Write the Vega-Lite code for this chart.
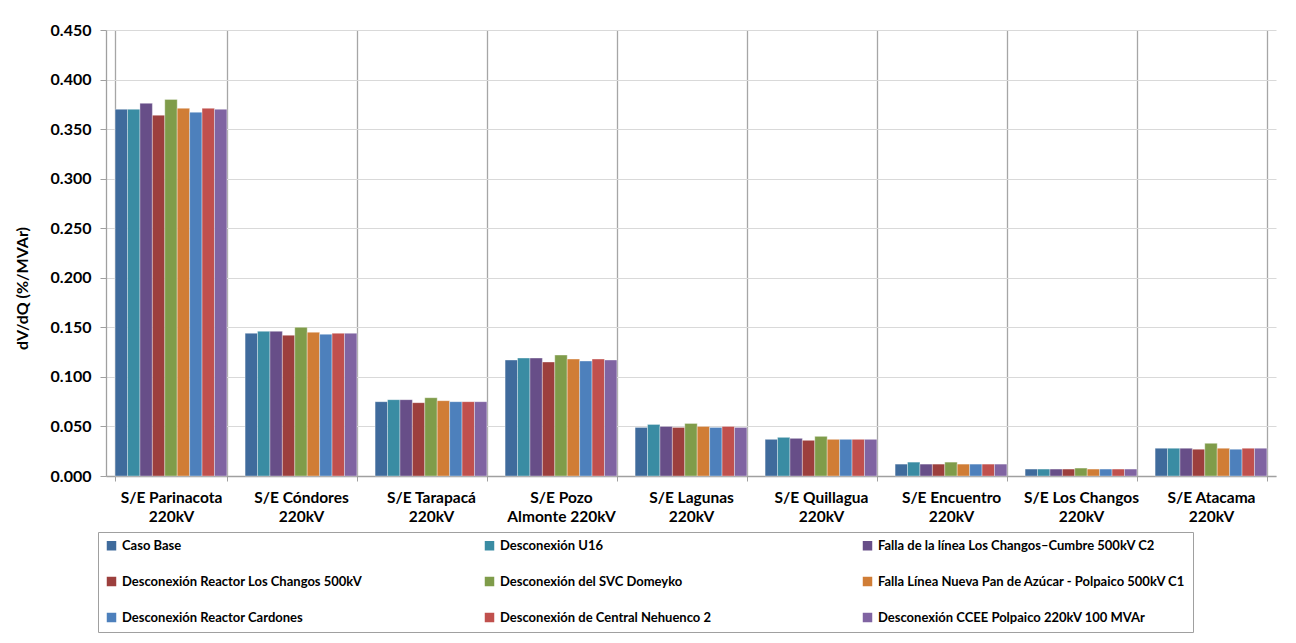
{
  "$schema": "https://vega.github.io/schema/vega-lite/v6.json",
  "autosize": {"type": "none"},
  "padding": {"left": 106, "top": 30, "right": 20, "bottom": 167},
  "width": 1170,
  "height": 446,
  "background": "white",
  "config": {
    "view": {"stroke": null},
    "font": "Lato",
    "axis": {"labelFont": "Lato", "titleFont": "Lato", "labelFontWeight": "bold", "titleFontWeight": "bold", "labelColor": "#000000", "titleColor": "#000000"},
    "legend": {"labelFont": "Lato", "labelFontWeight": "bold", "labelColor": "#000000"}
  },
  "datasets": {
    "tabla": [
      {"subestacion": "S/E Parinacota|220kV", "caso": "Caso Base", "valor": 0.370},
      {"subestacion": "S/E Parinacota|220kV", "caso": "Desconexión U16", "valor": 0.370},
      {"subestacion": "S/E Parinacota|220kV", "caso": "Falla de la línea Los Changos–Cumbre 500kV C2", "valor": 0.376},
      {"subestacion": "S/E Parinacota|220kV", "caso": "Desconexión Reactor Los Changos 500kV", "valor": 0.364},
      {"subestacion": "S/E Parinacota|220kV", "caso": "Desconexión del SVC Domeyko", "valor": 0.380},
      {"subestacion": "S/E Parinacota|220kV", "caso": "Falla Línea Nueva Pan de Azúcar - Polpaico 500kV C1", "valor": 0.371},
      {"subestacion": "S/E Parinacota|220kV", "caso": "Desconexión Reactor Cardones", "valor": 0.367},
      {"subestacion": "S/E Parinacota|220kV", "caso": "Desconexión de Central Nehuenco 2", "valor": 0.371},
      {"subestacion": "S/E Parinacota|220kV", "caso": "Desconexión CCEE Polpaico 220kV 100 MVAr", "valor": 0.370},

      {"subestacion": "S/E Cóndores|220kV", "caso": "Caso Base", "valor": 0.144},
      {"subestacion": "S/E Cóndores|220kV", "caso": "Desconexión U16", "valor": 0.146},
      {"subestacion": "S/E Cóndores|220kV", "caso": "Falla de la línea Los Changos–Cumbre 500kV C2", "valor": 0.146},
      {"subestacion": "S/E Cóndores|220kV", "caso": "Desconexión Reactor Los Changos 500kV", "valor": 0.142},
      {"subestacion": "S/E Cóndores|220kV", "caso": "Desconexión del SVC Domeyko", "valor": 0.150},
      {"subestacion": "S/E Cóndores|220kV", "caso": "Falla Línea Nueva Pan de Azúcar - Polpaico 500kV C1", "valor": 0.145},
      {"subestacion": "S/E Cóndores|220kV", "caso": "Desconexión Reactor Cardones", "valor": 0.143},
      {"subestacion": "S/E Cóndores|220kV", "caso": "Desconexión de Central Nehuenco 2", "valor": 0.144},
      {"subestacion": "S/E Cóndores|220kV", "caso": "Desconexión CCEE Polpaico 220kV 100 MVAr", "valor": 0.144},

      {"subestacion": "S/E Tarapacá|220kV", "caso": "Caso Base", "valor": 0.075},
      {"subestacion": "S/E Tarapacá|220kV", "caso": "Desconexión U16", "valor": 0.077},
      {"subestacion": "S/E Tarapacá|220kV", "caso": "Falla de la línea Los Changos–Cumbre 500kV C2", "valor": 0.077},
      {"subestacion": "S/E Tarapacá|220kV", "caso": "Desconexión Reactor Los Changos 500kV", "valor": 0.074},
      {"subestacion": "S/E Tarapacá|220kV", "caso": "Desconexión del SVC Domeyko", "valor": 0.079},
      {"subestacion": "S/E Tarapacá|220kV", "caso": "Falla Línea Nueva Pan de Azúcar - Polpaico 500kV C1", "valor": 0.076},
      {"subestacion": "S/E Tarapacá|220kV", "caso": "Desconexión Reactor Cardones", "valor": 0.075},
      {"subestacion": "S/E Tarapacá|220kV", "caso": "Desconexión de Central Nehuenco 2", "valor": 0.075},
      {"subestacion": "S/E Tarapacá|220kV", "caso": "Desconexión CCEE Polpaico 220kV 100 MVAr", "valor": 0.075},

      {"subestacion": "S/E Pozo|Almonte 220kV", "caso": "Caso Base", "valor": 0.117},
      {"subestacion": "S/E Pozo|Almonte 220kV", "caso": "Desconexión U16", "valor": 0.119},
      {"subestacion": "S/E Pozo|Almonte 220kV", "caso": "Falla de la línea Los Changos–Cumbre 500kV C2", "valor": 0.119},
      {"subestacion": "S/E Pozo|Almonte 220kV", "caso": "Desconexión Reactor Los Changos 500kV", "valor": 0.115},
      {"subestacion": "S/E Pozo|Almonte 220kV", "caso": "Desconexión del SVC Domeyko", "valor": 0.122},
      {"subestacion": "S/E Pozo|Almonte 220kV", "caso": "Falla Línea Nueva Pan de Azúcar - Polpaico 500kV C1", "valor": 0.118},
      {"subestacion": "S/E Pozo|Almonte 220kV", "caso": "Desconexión Reactor Cardones", "valor": 0.116},
      {"subestacion": "S/E Pozo|Almonte 220kV", "caso": "Desconexión de Central Nehuenco 2", "valor": 0.118},
      {"subestacion": "S/E Pozo|Almonte 220kV", "caso": "Desconexión CCEE Polpaico 220kV 100 MVAr", "valor": 0.117},

      {"subestacion": "S/E Lagunas|220kV", "caso": "Caso Base", "valor": 0.049},
      {"subestacion": "S/E Lagunas|220kV", "caso": "Desconexión U16", "valor": 0.052},
      {"subestacion": "S/E Lagunas|220kV", "caso": "Falla de la línea Los Changos–Cumbre 500kV C2", "valor": 0.050},
      {"subestacion": "S/E Lagunas|220kV", "caso": "Desconexión Reactor Los Changos 500kV", "valor": 0.049},
      {"subestacion": "S/E Lagunas|220kV", "caso": "Desconexión del SVC Domeyko", "valor": 0.053},
      {"subestacion": "S/E Lagunas|220kV", "caso": "Falla Línea Nueva Pan de Azúcar - Polpaico 500kV C1", "valor": 0.050},
      {"subestacion": "S/E Lagunas|220kV", "caso": "Desconexión Reactor Cardones", "valor": 0.049},
      {"subestacion": "S/E Lagunas|220kV", "caso": "Desconexión de Central Nehuenco 2", "valor": 0.050},
      {"subestacion": "S/E Lagunas|220kV", "caso": "Desconexión CCEE Polpaico 220kV 100 MVAr", "valor": 0.049},

      {"subestacion": "S/E Quillagua|220kV", "caso": "Caso Base", "valor": 0.037},
      {"subestacion": "S/E Quillagua|220kV", "caso": "Desconexión U16", "valor": 0.039},
      {"subestacion": "S/E Quillagua|220kV", "caso": "Falla de la línea Los Changos–Cumbre 500kV C2", "valor": 0.038},
      {"subestacion": "S/E Quillagua|220kV", "caso": "Desconexión Reactor Los Changos 500kV", "valor": 0.036},
      {"subestacion": "S/E Quillagua|220kV", "caso": "Desconexión del SVC Domeyko", "valor": 0.040},
      {"subestacion": "S/E Quillagua|220kV", "caso": "Falla Línea Nueva Pan de Azúcar - Polpaico 500kV C1", "valor": 0.037},
      {"subestacion": "S/E Quillagua|220kV", "caso": "Desconexión Reactor Cardones", "valor": 0.037},
      {"subestacion": "S/E Quillagua|220kV", "caso": "Desconexión de Central Nehuenco 2", "valor": 0.037},
      {"subestacion": "S/E Quillagua|220kV", "caso": "Desconexión CCEE Polpaico 220kV 100 MVAr", "valor": 0.037},

      {"subestacion": "S/E Encuentro|220kV", "caso": "Caso Base", "valor": 0.012},
      {"subestacion": "S/E Encuentro|220kV", "caso": "Desconexión U16", "valor": 0.014},
      {"subestacion": "S/E Encuentro|220kV", "caso": "Falla de la línea Los Changos–Cumbre 500kV C2", "valor": 0.012},
      {"subestacion": "S/E Encuentro|220kV", "caso": "Desconexión Reactor Los Changos 500kV", "valor": 0.012},
      {"subestacion": "S/E Encuentro|220kV", "caso": "Desconexión del SVC Domeyko", "valor": 0.014},
      {"subestacion": "S/E Encuentro|220kV", "caso": "Falla Línea Nueva Pan de Azúcar - Polpaico 500kV C1", "valor": 0.012},
      {"subestacion": "S/E Encuentro|220kV", "caso": "Desconexión Reactor Cardones", "valor": 0.012},
      {"subestacion": "S/E Encuentro|220kV", "caso": "Desconexión de Central Nehuenco 2", "valor": 0.012},
      {"subestacion": "S/E Encuentro|220kV", "caso": "Desconexión CCEE Polpaico 220kV 100 MVAr", "valor": 0.012},

      {"subestacion": "S/E Los Changos|220kV", "caso": "Caso Base", "valor": 0.007},
      {"subestacion": "S/E Los Changos|220kV", "caso": "Desconexión U16", "valor": 0.007},
      {"subestacion": "S/E Los Changos|220kV", "caso": "Falla de la línea Los Changos–Cumbre 500kV C2", "valor": 0.007},
      {"subestacion": "S/E Los Changos|220kV", "caso": "Desconexión Reactor Los Changos 500kV", "valor": 0.007},
      {"subestacion": "S/E Los Changos|220kV", "caso": "Desconexión del SVC Domeyko", "valor": 0.008},
      {"subestacion": "S/E Los Changos|220kV", "caso": "Falla Línea Nueva Pan de Azúcar - Polpaico 500kV C1", "valor": 0.007},
      {"subestacion": "S/E Los Changos|220kV", "caso": "Desconexión Reactor Cardones", "valor": 0.007},
      {"subestacion": "S/E Los Changos|220kV", "caso": "Desconexión de Central Nehuenco 2", "valor": 0.007},
      {"subestacion": "S/E Los Changos|220kV", "caso": "Desconexión CCEE Polpaico 220kV 100 MVAr", "valor": 0.007},

      {"subestacion": "S/E Atacama|220kV", "caso": "Caso Base", "valor": 0.028},
      {"subestacion": "S/E Atacama|220kV", "caso": "Desconexión U16", "valor": 0.028},
      {"subestacion": "S/E Atacama|220kV", "caso": "Falla de la línea Los Changos–Cumbre 500kV C2", "valor": 0.028},
      {"subestacion": "S/E Atacama|220kV", "caso": "Desconexión Reactor Los Changos 500kV", "valor": 0.027},
      {"subestacion": "S/E Atacama|220kV", "caso": "Desconexión del SVC Domeyko", "valor": 0.033},
      {"subestacion": "S/E Atacama|220kV", "caso": "Falla Línea Nueva Pan de Azúcar - Polpaico 500kV C1", "valor": 0.028},
      {"subestacion": "S/E Atacama|220kV", "caso": "Desconexión Reactor Cardones", "valor": 0.027},
      {"subestacion": "S/E Atacama|220kV", "caso": "Desconexión de Central Nehuenco 2", "valor": 0.028},
      {"subestacion": "S/E Atacama|220kV", "caso": "Desconexión CCEE Polpaico 220kV 100 MVAr", "valor": 0.028}
    ]
  },
  "data": {"name": "tabla"},
  "mark": {"type": "bar", "stroke": "#ffffff", "strokeOpacity": 0.35, "strokeWidth": 1},
  "encoding": {
    "x": {
      "field": "subestacion",
      "type": "nominal",
      "sort": null,
      "scale": {"paddingInner": 0.14, "paddingOuter": 0.07},
      "axis": {
        "title": null,
        "labelAngle": 0,
        "labelExpr": "split(datum.label, '|')",
        "labelFontSize": 15.5,
        "labelLineHeight": 19,
        "labelPadding": 9,
        "labelLimit": 200,
        "tickBand": "extent",
        "ticks": true,
        "tickSize": 5,
        "tickColor": "#A0A0A0",
        "domainColor": "#A0A0A0",
        "domainWidth": 1.3,
        "grid": true,
        "gridColor": "#A6A6A6",
        "gridWidth": 1.3
      }
    },
    "xOffset": {
      "field": "caso",
      "type": "nominal",
      "sort": null,
      "scale": {"paddingInner": 0, "paddingOuter": 0}
    },
    "y": {
      "field": "valor",
      "type": "quantitative",
      "scale": {"domain": [0, 0.45], "nice": false},
      "axis": {
        "title": "dV/dQ (%/MVAr)",
        "titleFontSize": 16,
        "titleAngle": 270,
        "titleX": -84,
        "titleY": 258,
        "titleAlign": "center",
        "titleBaseline": "middle",
        "values": [0, 0.05, 0.1, 0.15, 0.2, 0.25, 0.3, 0.35, 0.4, 0.45],
        "format": ".3f",
        "labelFontSize": 16,
        "labelPadding": 9,
        "tickSize": 6,
        "tickColor": "#A0A0A0",
        "domainColor": "#A0A0A0",
        "domainWidth": 1.3,
        "grid": true,
        "gridColor": "#D9D9D9",
        "gridWidth": 1
      }
    },
    "color": {
      "field": "caso",
      "type": "nominal",
      "scale": {
        "domain": ["Caso Base", "Desconexión U16", "Falla de la línea Los Changos–Cumbre 500kV C2", "Desconexión Reactor Los Changos 500kV", "Desconexión del SVC Domeyko", "Falla Línea Nueva Pan de Azúcar - Polpaico 500kV C1", "Desconexión Reactor Cardones", "Desconexión de Central Nehuenco 2", "Desconexión CCEE Polpaico 220kV 100 MVAr"],
        "range": ["#3F6B9C", "#3A8CA3", "#674E88", "#9C3F3D", "#7F9C4A", "#D07D36", "#4D80BC", "#C0504D", "#8064A2"]
      },
      "legend": {
        "title": null,
        "orient": "none",
        "legendX": -8,
        "legendY": 502,
        "columns": 3,
        "direction": "horizontal",
        "gridAlign": "all",
        "columnPadding": 53,
        "rowPadding": 22,
        "padding": 7,
        "strokeColor": "#A0A0A0",
        "symbolType": "square",
        "symbolSize": 90,
        "symbolStrokeWidth": 0,
        "labelFontSize": 13,
        "labelOffset": 4,
        "labelLimit": 400
      }
    }
  }
}
